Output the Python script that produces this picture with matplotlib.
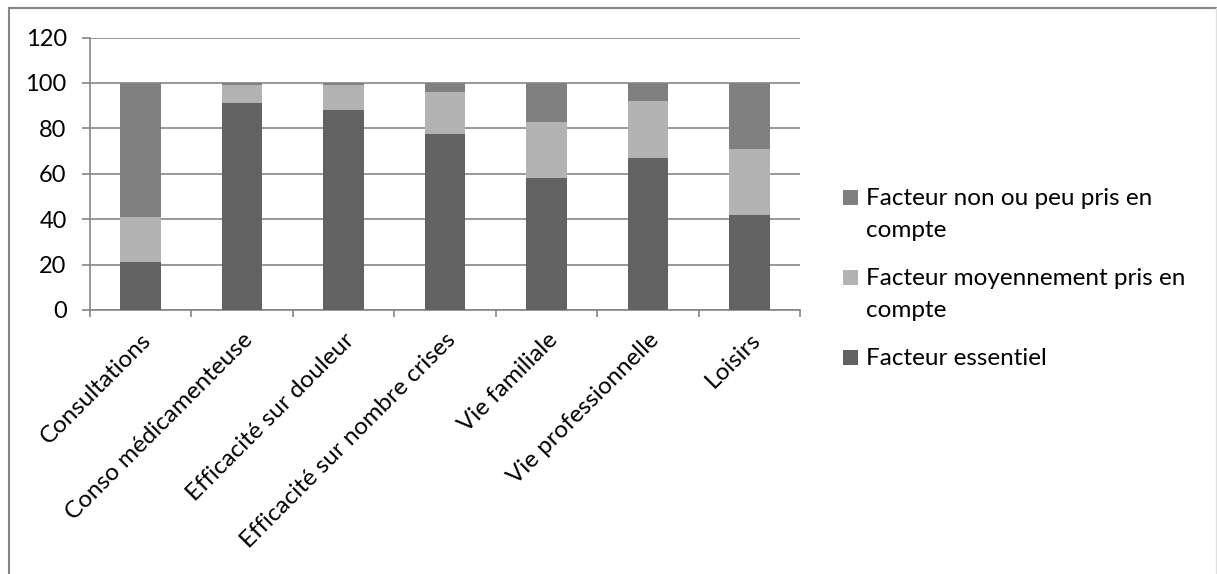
import matplotlib
matplotlib.use("Agg")
import matplotlib.pyplot as plt
from matplotlib.lines import Line2D
from matplotlib.patches import Rectangle
import numpy as np

categories = ["Consultations", "Conso médicamenteuse", "Efficacité sur douleur",
              "Efficacité sur nombre crises", "Vie familiale", "Vie professionnelle", "Loisirs"]
essentiel = [21, 91, 88, 77.5, 58, 67, 42]
moyen = [20, 8, 11, 18.5, 25, 25, 29]
non_peu = [59, 1, 1, 4, 17, 8, 29]
series_labels = ["Facteur essentiel", "Facteur moyennement pris en\ncompte", "Facteur non ou peu pris en\ncompte"]
colors = ["#626262", "#B3B3B3", "#808080"]
yticks = [0, 20, 40, 60, 80, 100, 120]

plt.rcParams['font.family'] = ['Lato', 'DejaVu Sans']
W, H = 1217, 574
fig = plt.figure(figsize=(W/100, H/100), dpi=100)
ax = fig.add_axes([90/W, (H-310)/H, 710/W, (310-37.5)/H])

x = np.arange(len(categories))
bottoms = np.zeros(len(categories))
for vals, lab, col in zip([essentiel, moyen, non_peu], series_labels, colors):
    ax.bar(x, vals, width=0.4, bottom=bottoms, color=col, label=lab, zorder=3)
    bottoms = bottoms + np.array(vals)

ax.set_xlim(-0.5, len(categories) - 0.5)
ax.set_ylim(0, 120)
ax.set_yticks(yticks)
ax.yaxis.grid(True, color="#868686", linewidth=1.2, zorder=0)
ax.set_axisbelow(True)
for s in ["top", "right"]:
    ax.spines[s].set_visible(False)
for s in ["left", "bottom"]:
    ax.spines[s].set_color("#868686")
    ax.spines[s].set_linewidth(1.2)

ax.set_xticks(np.arange(len(categories) + 1) - 0.5, minor=False)
ax.set_xticklabels([])
ax.set_xticks(x, minor=True)
ax.set_xticklabels(categories, minor=True, rotation=45, ha="right", rotation_mode="anchor", fontsize=17.5)
ax.tick_params(axis="x", which="major", length=5, width=1.2, color="#868686", direction="out")
ax.tick_params(axis="x", which="minor", length=0, pad=14)
ax.tick_params(axis="y", length=5.8, width=1.2, color="#868686", labelsize=17, pad=11)

# legend (reverse order, handle aligned with first line of each label)
leg_entries = list(zip(series_labels, colors))[::-1]
first_baselines = [205, 285, 365]
line_gap = 32
for (lab, col), yb in zip(leg_entries, first_baselines):
    fig.add_artist(Rectangle((843/W, (H-yb)/H), 15/W, 15/H, transform=fig.transFigure,
                             facecolor=col, edgecolor="none"))
    for i, line in enumerate(lab.split("\n")):
        fig.text(866/W, (H-(yb + i*line_gap))/H, line, fontsize=17.5, va="baseline", ha="left")

# outer chart border
fig.add_artist(Line2D([8.5/W, 8.5/W], [0, (H-7.5)/H], color="#868686", linewidth=1.5))
fig.add_artist(Line2D([8.5/W, 1216/W], [(H-7.5)/H, (H-7.5)/H], color="#868686", linewidth=1.5))
fig.add_artist(Line2D([1216/W, 1216/W], [0, (H-7.5)/H], color="#E0E0E0", linewidth=1))

fig.savefig("out.png", dpi=100)
